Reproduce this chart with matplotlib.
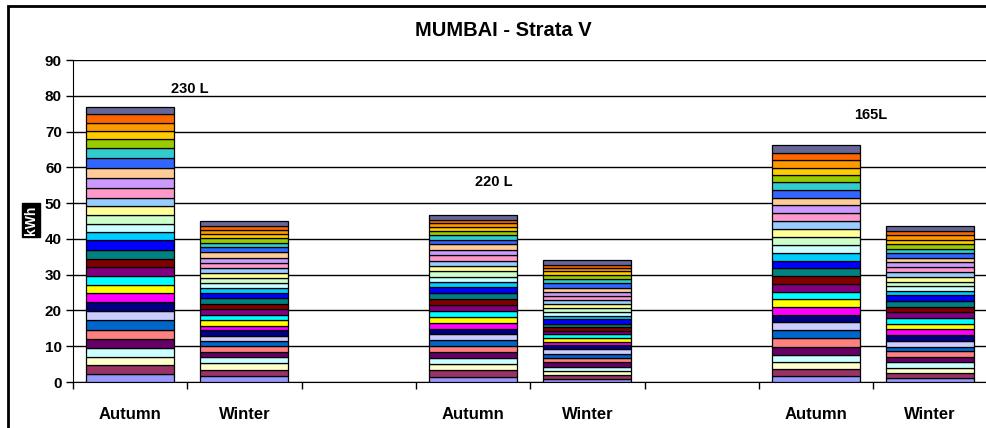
import numpy as np
import matplotlib.pyplot as plt
from matplotlib.patches import Rectangle

plt.rcParams['font.family'] = ['Liberation Sans', 'DejaVu Sans']

categories = ['Autumn', 'Winter', '', 'Autumn', 'Winter', '', 'Autumn', 'Winter']

# segment values, bottom -> top (31 series each)
autumn_230 = [2.33, 2.33, 2.24, 2.61, 2.61, 2.52, 2.61, 2.52, 2.61, 2.52, 2.33,
              2.52, 2.42, 2.33, 2.52, 2.61, 2.33, 2.33, 2.33, 2.52, 2.33, 2.80,
              2.80, 2.80, 2.61, 2.80, 2.52, 2.33, 2.33, 2.33, 2.14]
winter_230 = [1.58, 1.86, 1.86, 1.58, 1.49, 1.58, 1.58, 1.21, 1.68, 1.30, 1.49,
              1.58, 1.58, 1.49, 1.58, 1.40, 1.30, 1.49, 1.30, 1.40, 1.40, 1.49,
              1.49, 1.49, 1.40, 1.30, 1.21, 1.21, 1.21, 1.21, 1.30]
autumn_220 = [1.49, 1.86, 1.77, 1.58, 1.77, 1.68, 1.58, 1.58, 1.49, 1.68, 1.68,
              1.68, 1.68, 1.68, 1.68, 1.58, 1.49, 1.49, 1.49, 1.49, 1.49, 1.49,
              1.58, 1.49, 1.21, 1.30, 1.21, 1.03, 1.12, 1.03, 1.21]
winter_220 = [0.75, 1.12, 1.12, 1.12, 1.40, 1.21, 1.21, 1.21, 1.21, 0.75, 1.12,
              1.12, 0.93, 1.03, 1.03, 1.21, 1.03, 1.12, 1.03, 1.03, 1.03, 1.12,
              1.21, 1.30, 1.21, 1.21, 1.12, 1.03, 0.93, 0.84, 1.21]
autumn_165 = [1.77, 1.96, 1.77, 1.96, 2.42, 2.33, 2.33, 2.14, 2.05, 2.14, 2.24,
              2.14, 2.14, 2.24, 2.14, 2.14, 2.24, 2.14, 2.14, 2.24, 2.33, 2.14,
              2.24, 2.14, 2.14, 2.14, 2.05, 2.05, 2.14, 2.05, 2.14]
winter_165 = [1.12, 1.40, 1.49, 1.49, 1.49, 1.58, 1.30, 1.49, 1.68, 1.68, 1.49,
              1.58, 1.68, 1.58, 1.58, 1.58, 1.21, 1.30, 1.30, 1.40, 1.30, 1.40,
              1.30, 1.21, 1.30, 1.30, 1.30, 1.21, 1.21, 1.21, 1.40]
blank = [0.0] * 31

annotations = ['230 L', '220 L', '165L']
annot_x = [0.52, 3.18, 6.48]
annot_y = [81.9, 55.9, 74.6]

colors = ['#9999FF', '#993366', '#FFFFCC', '#CCFFFF', '#660066', '#FF8080',
          '#0066CC', '#CCCCFF', '#000080', '#FF00FF', '#FFFF00', '#00FFFF',
          '#800080', '#800000', '#008080', '#0000FF', '#00CCFF', '#CCFFFF',
          '#CCFFCC', '#FFFF99', '#99CCFF', '#FF99CC', '#CC99FF', '#FFCC99',
          '#3366FF', '#33CCCC', '#99CC00', '#FFCC00', '#FF9900', '#FF6600',
          '#666699']

data = np.array([autumn_230, winter_230, blank, autumn_220, winter_220, blank,
                 autumn_165, winter_165]).T  # series x category

fig = plt.figure(figsize=(9.86, 4.28), dpi=100)
ax = fig.add_axes([73 / 986, 46 / 428, 914.4 / 986, 322 / 428])

x = np.arange(len(categories))
has_bar = data.sum(axis=0) > 0
bottom = np.zeros(len(categories))
for i in range(data.shape[0]):
    ax.bar(x[has_bar], data[i][has_bar], 0.77, bottom=bottom[has_bar],
           color=colors[i], edgecolor='black', linewidth=0.9, zorder=3)
    bottom += data[i]

ax.set_xlim(-0.5, len(categories) - 0.5)
ax.set_ylim(0, 90)
ax.set_yticks(np.arange(0, 91, 10))
ax.yaxis.grid(True, color='black', linewidth=1)
ax.set_axisbelow(True)

ax.set_xticks(x)
ax.set_xticklabels(categories, fontsize=12, fontweight='bold')
ax.set_xticks(np.arange(-0.5, len(categories), 1), minor=True)
ax.tick_params(axis='x', which='major', length=0, pad=18)
ax.tick_params(axis='x', which='minor', length=5, color='black', width=1)
ax.tick_params(axis='y', length=5, width=1, labelsize=11, pad=3)
for lab in ax.get_yticklabels():
    lab.set_fontweight('bold')

for s in ['top', 'right']:
    ax.spines[s].set_visible(False)
ax.spines['left'].set_color('black')
ax.spines['bottom'].set_color('black')

for txt, tx, ty in zip(annotations, annot_x, annot_y):
    ax.text(tx, ty, txt, ha='center', va='center', fontsize=10.5,
            fontweight='bold', zorder=5)

fig.text(503 / 986, 1 - 30 / 428, 'MUMBAI - Strata V', ha='center',
         va='center', fontsize=14.5, fontweight='bold')
fig.text(31 / 986, 1 - 220 / 428, 'kWh', rotation=90, ha='center',
         va='center', color='white', fontsize=10, fontweight='bold',
         bbox=dict(facecolor='black', edgecolor='black', pad=1.5))

fig.patches.append(Rectangle((8 / 986, -0.1), 1.1, 1.1 - 6 / 428,
                             transform=fig.transFigure, fill=False,
                             edgecolor='black', linewidth=2))

fig.savefig('out.png', dpi=100)
